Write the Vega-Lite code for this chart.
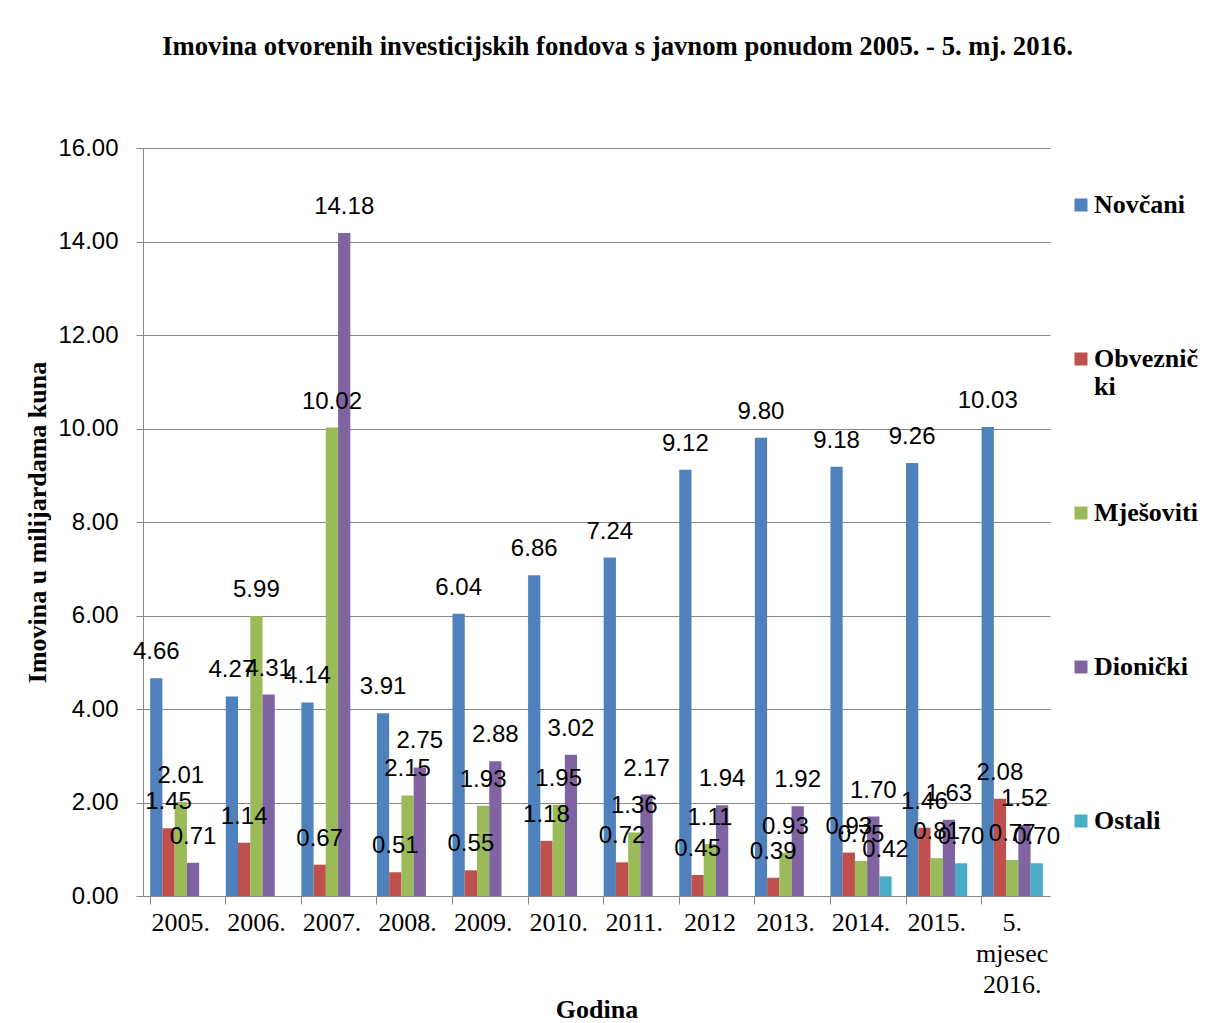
{
  "$schema": "https://vega.github.io/schema/vega-lite/v6.json",
  "width": 907,
  "height": 748,
  "padding": {"top": 34, "left": 24, "right": 0, "bottom": 0},
  "background": "white",
  "title": {
    "text": "Imovina otvorenih investicijskih fondova s javnom ponudom 2005. - 5. mj. 2016.",
    "font": "Liberation Serif",
    "fontSize": 26.7,
    "fontWeight": "bold",
    "color": "black",
    "anchor": "middle",
    "frame": "group",
    "dx": 21,
    "offset": 75
  },
  "data": {
    "values": [
      {"godina": "2005.", "serija": "Novčani", "vrijednost": 4.66},
      {"godina": "2005.", "serija": "Obveznički", "vrijednost": 1.45},
      {"godina": "2005.", "serija": "Mješoviti", "vrijednost": 2.01},
      {"godina": "2005.", "serija": "Dionički", "vrijednost": 0.71},
      {"godina": "2006.", "serija": "Novčani", "vrijednost": 4.27},
      {"godina": "2006.", "serija": "Obveznički", "vrijednost": 1.14},
      {"godina": "2006.", "serija": "Mješoviti", "vrijednost": 5.99},
      {"godina": "2006.", "serija": "Dionički", "vrijednost": 4.31},
      {"godina": "2007.", "serija": "Novčani", "vrijednost": 4.14},
      {"godina": "2007.", "serija": "Obveznički", "vrijednost": 0.67},
      {"godina": "2007.", "serija": "Mješoviti", "vrijednost": 10.02},
      {"godina": "2007.", "serija": "Dionički", "vrijednost": 14.18},
      {"godina": "2008.", "serija": "Novčani", "vrijednost": 3.91},
      {"godina": "2008.", "serija": "Obveznički", "vrijednost": 0.51},
      {"godina": "2008.", "serija": "Mješoviti", "vrijednost": 2.15},
      {"godina": "2008.", "serija": "Dionički", "vrijednost": 2.75},
      {"godina": "2009.", "serija": "Novčani", "vrijednost": 6.04},
      {"godina": "2009.", "serija": "Obveznički", "vrijednost": 0.55},
      {"godina": "2009.", "serija": "Mješoviti", "vrijednost": 1.93},
      {"godina": "2009.", "serija": "Dionički", "vrijednost": 2.88},
      {"godina": "2010.", "serija": "Novčani", "vrijednost": 6.86},
      {"godina": "2010.", "serija": "Obveznički", "vrijednost": 1.18},
      {"godina": "2010.", "serija": "Mješoviti", "vrijednost": 1.95},
      {"godina": "2010.", "serija": "Dionički", "vrijednost": 3.02},
      {"godina": "2011.", "serija": "Novčani", "vrijednost": 7.24},
      {"godina": "2011.", "serija": "Obveznički", "vrijednost": 0.72},
      {"godina": "2011.", "serija": "Mješoviti", "vrijednost": 1.36},
      {"godina": "2011.", "serija": "Dionički", "vrijednost": 2.17},
      {"godina": "2012", "serija": "Novčani", "vrijednost": 9.12},
      {"godina": "2012", "serija": "Obveznički", "vrijednost": 0.45},
      {"godina": "2012", "serija": "Mješoviti", "vrijednost": 1.11},
      {"godina": "2012", "serija": "Dionički", "vrijednost": 1.94},
      {"godina": "2013.", "serija": "Novčani", "vrijednost": 9.80},
      {"godina": "2013.", "serija": "Obveznički", "vrijednost": 0.39},
      {"godina": "2013.", "serija": "Mješoviti", "vrijednost": 0.93},
      {"godina": "2013.", "serija": "Dionički", "vrijednost": 1.92},
      {"godina": "2014.", "serija": "Novčani", "vrijednost": 9.18},
      {"godina": "2014.", "serija": "Obveznički", "vrijednost": 0.93},
      {"godina": "2014.", "serija": "Mješoviti", "vrijednost": 0.75},
      {"godina": "2014.", "serija": "Dionički", "vrijednost": 1.70},
      {"godina": "2014.", "serija": "Ostali", "vrijednost": 0.42},
      {"godina": "2015.", "serija": "Novčani", "vrijednost": 9.26},
      {"godina": "2015.", "serija": "Obveznički", "vrijednost": 1.46},
      {"godina": "2015.", "serija": "Mješoviti", "vrijednost": 0.81},
      {"godina": "2015.", "serija": "Dionički", "vrijednost": 1.63},
      {"godina": "2015.", "serija": "Ostali", "vrijednost": 0.70},
      {"godina": "5. mjesec 2016.", "serija": "Novčani", "vrijednost": 10.03},
      {"godina": "5. mjesec 2016.", "serija": "Obveznički", "vrijednost": 2.08},
      {"godina": "5. mjesec 2016.", "serija": "Mješoviti", "vrijednost": 0.77},
      {"godina": "5. mjesec 2016.", "serija": "Dionički", "vrijednost": 1.52},
      {"godina": "5. mjesec 2016.", "serija": "Ostali", "vrijednost": 0.70}
    ]
  },
  "encoding": {
    "x": {
      "field": "godina",
      "type": "nominal",
      "sort": null,
      "scale": {"paddingInner": 0.19, "paddingOuter": 0.095},
      "axis": {
        "title": "Godina",
        "labelAngle": 0,
        "labelFont": "Liberation Serif",
        "labelFontSize": 26,
        "labelColor": "black",
        "labelLimit": 300,
        "labelPadding": 5,
        "labelLineHeight": 31,
        "labelExpr": "datum.label == '5. mjesec 2016.' ? ['5.', 'mjesec', '2016.'] : datum.label",
        "bandPosition": 0,
        "tickSize": 8,
        "tickColor": "#868686",
        "domainColor": "#868686",
        "titleFont": "Liberation Serif",
        "titleFontSize": 26,
        "titleFontWeight": "bold",
        "titleColor": "black",
        "titleBaseline": "alphabetic",
        "titleY": 121
      }
    },
    "xOffset": {
      "field": "serija",
      "type": "nominal",
      "sort": ["Novčani", "Obveznički", "Mješoviti", "Dionički", "Ostali"],
      "scale": {"domain": ["Novčani", "Obveznički", "Mješoviti", "Dionički", "Ostali"], "paddingInner": 0, "paddingOuter": 0}
    },
    "y": {
      "field": "vrijednost",
      "type": "quantitative",
      "scale": {"domain": [0, 16], "nice": false},
      "axis": {
        "title": "Imovina u milijardama kuna",
        "values": [0, 2, 4, 6, 8, 10, 12, 14, 16],
        "format": ".2f",
        "grid": true,
        "gridColor": "#868686",
        "domainColor": "#868686",
        "tickColor": "#868686",
        "tickSize": 7,
        "labelFont": "Liberation Sans",
        "labelFontSize": 24,
        "labelColor": "black",
        "labelPadding": 18,
        "titleFont": "Liberation Serif",
        "titleFontSize": 26,
        "titleFontWeight": "bold",
        "titleColor": "black",
        "titlePadding": 7
      }
    }
  },
  "layer": [
    {
      "mark": {"type": "bar"},
      "encoding": {
        "color": {
          "field": "serija",
          "type": "nominal",
          "scale": {
            "domain": ["Novčani", "Obveznički", "Mješoviti", "Dionički", "Ostali"],
            "range": ["#4F81BD", "#C0504D", "#9BBB59", "#8064A2", "#4BACC6"]
          },
          "legend": {
            "title": null,
            "orient": "none",
            "legendX": 925,
            "legendY": 44,
            "symbolType": "square",
            "symbolSize": 169,
            "symbolStrokeWidth": 0,
            "labelFont": "Liberation Serif",
            "labelFontSize": 26,
            "labelFontWeight": "bold",
            "labelColor": "black",
            "labelOffset": 0,
            "labelLimit": 300,
            "labelLineHeight": 33,
            "labelExpr": "datum.label == 'Obveznički' ? ['Obvezni\u010d', 'ki'] : [datum.label, '']",
            "rowPadding": 100
          }
        }
      }
    },
    {
      "mark": {
        "type": "text",
        "font": "Liberation Sans",
        "fontSize": 24,
        "color": "black",
        "baseline": "alphabetic",
        "dy": -19
      },
      "encoding": {
        "text": {"field": "vrijednost", "type": "quantitative", "format": ".2f"}
      }
    }
  ],
  "config": {
    "view": {"stroke": null}
  }
}
